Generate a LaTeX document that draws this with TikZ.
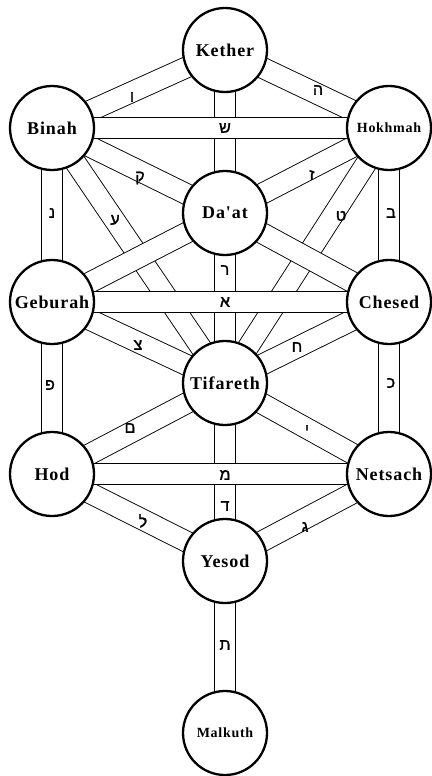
\documentclass[tikz,border=0pt]{standalone}
\usepackage{fontspec}
\setmainfont{Liberation Serif}
\newfontfamily\sefira[LetterSpace=5]{Liberation Serif}
\newfontfamily\hebfont[Script=Hebrew,FakeBold=1.5]{Liberation Sans}
\pgfdeclarelayer{bg}
\pgfsetlayers{bg,main}
\tikzset{
 band/.style={draw=black, line width=0.9pt, double=white, double distance=20pt},
 sef/.style={circle, draw=black, line width=2.3pt, fill=white, minimum size=84pt, inner sep=0pt,
   font=\sefira\bfseries\fontsize{18}{18}\selectfont},
 sefs/.style={sef, font=\sefira\bfseries\fontsize{14}{14}\selectfont},
 heb/.style={font=\hebfont\fontsize{16}{16}\selectfont, inner sep=0pt},
}
\begin{document}
\begin{tikzpicture}[x=1pt,y=-1pt]
\useasboundingbox (0,0) rectangle (431,776);
% sefirot
\node[sef]  (K)  at (225,50)  {Kether};
\node[sef]  (B)  at (52,128)  {Binah};
\node[sefs] (H)  at (389,128) {Hokhmah};
\node[sef]  (D)  at (225,213) {Da'at};
\node[sef]  (G)  at (52,302)  {Geburah};
\node[sef]  (C)  at (389,302) {Chesed};
\node[sef]  (T)  at (225,383) {Tifareth};
\node[sef]  (Ho) at (52,474)  {Hod};
\node[sef]  (N)  at (389,474) {Netsach};
\node[sef]  (Y)  at (225,561) {Yesod};
\node[sefs] (M)  at (225,733) {Malkuth};
\begin{pgfonlayer}{bg}
% long diagonals (lowest)
\draw[band] (B.center) -- (T.center);
\draw[band] (H.center) -- (T.center);
% Da'at to Geburah / Chesed
\draw[band] (D.center) -- (G.center);
\draw[band] (D.center) -- (C.center);
% other paths
\draw[band] (K.center) -- (B.center);
\draw[band] (K.center) -- (H.center);
\draw[band] (B.center) -- (D.center);
\draw[band] (H.center) -- (D.center);
\draw[band] (K.center) -- (D.center);
\draw[band] (D.center) -- (T.center);
\draw[band] (B.center) -- (G.center);
\draw[band] (H.center) -- (C.center);
\draw[band] (G.center) -- (T.center);
\draw[band] (C.center) -- (T.center);
\draw[band] (G.center) -- (Ho.center);
\draw[band] (C.center) -- (N.center);
\draw[band] (T.center) -- (Ho.center);
\draw[band] (T.center) -- (N.center);
\draw[band] (T.center) -- (Y.center);
\draw[band] (Ho.center) -- (Y.center);
\draw[band] (N.center) -- (Y.center);
\draw[band] (Y.center) -- (M.center);
% horizontals (top)
\draw[band] (B.center) -- (H.center);
\draw[band] (G.center) -- (C.center);
\draw[band] (Ho.center) -- (N.center);
\end{pgfonlayer}
% letters
\node[heb] (lvav)    at (132,97)  {ו};
\node[heb] (lhe)     at (318,90)  {ה};
\node[heb] (lshin)   at (225,128) {ש};
\node[heb] (lqof)    at (140,178) {ק};
\node[heb] (lzayin)  at (312,175) {ז};
\node[heb] (lnun)    at (52,213)  {נ};
\node[heb] (layin)   at (115,220) {ע};
\node[heb] (ltet)    at (341,216) {ט};
\node[heb] (lbet)    at (391,213) {ב};
\node[heb] (lresh)   at (225,270) {ר};
\node[heb] (lalef)   at (225,302) {א};
\node[heb] (ltsadi)  at (138,345) {צ};
\node[heb] (lhet)    at (297,347) {ח};
\node[heb] (lpe)     at (50,385)  {פ};
\node[heb] (lkaf)    at (391,383) {כ};
\node[heb] (lmemf)   at (130,428) {ם};
\node[heb] (lyod)    at (307,430) {י};
\node[heb] (lmem)    at (225,475) {מ};
\node[heb] (ldalet)  at (225,506) {ד};
\node[heb] (llamed)  at (143,521) {ל};
\node[heb] (lgimel)  at (305,527) {ג};
\node[heb] (ltav)    at (225,645) {ת};
\end{tikzpicture}
\end{document}
